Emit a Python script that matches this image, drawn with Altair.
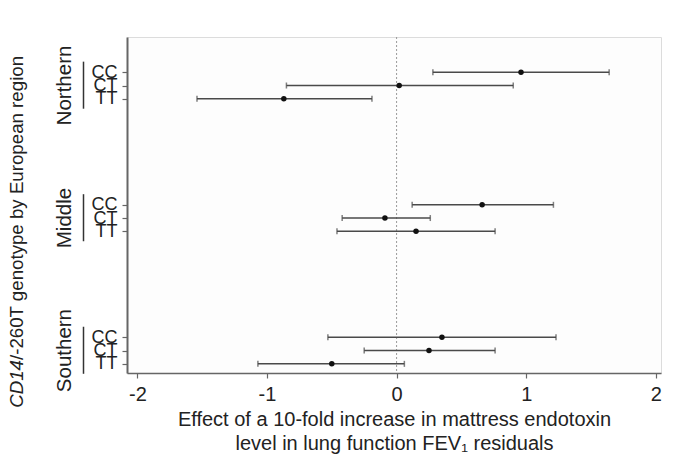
import altair as alt
import pandas as pd

# ---- data ----
regions = ["Northern", "Northern", "Northern", "Middle", "Middle", "Middle",
           "Southern", "Southern", "Southern"]
genotypes = ["CC", "CT", "TT", "CC", "CT", "TT", "CC", "CT", "TT"]
estimate = [0.96, 0.02, -0.87, 0.66, -0.09, 0.15, 0.35, 0.25, -0.50]
ci_low = [0.28, -0.85, -1.54, 0.12, -0.42, -0.46, -0.53, -0.25, -1.07]
ci_high = [1.64, 0.90, -0.19, 1.21, 0.26, 0.76, 1.23, 0.76, 0.06]
row_pos = [0, 1, 2, 10, 11, 12, 20, 21, 22]

group_names = ["Northern", "Middle", "Southern"]
group_center = [1, 11, 21]
group_start = [-0.8, 9.2, 19.2]
group_end = [2.75, 12.75, 22.75]

x_ticks = [-2, -1, 0, 1, 2]
x_title = ["Effect of a 10-fold increase in mattress endotoxin",
           "level in lung function FEV\u2081 residuals"]
y_title_italic = "CD14"
y_title_rest = "/-260T genotype by European region"

FONT = "Liberation Sans"

df = pd.DataFrame({"region": regions, "genotype": genotypes, "est": estimate,
                   "lo": ci_low, "hi": ci_high, "pos": row_pos})
gdf = pd.DataFrame({"name": group_names, "center": group_center,
                    "start": group_start, "end": group_end})

xscale = alt.Scale(domain=[-2.08, 2.04], nice=False, zero=False)
yscale = alt.Scale(domain=[-2.66, 22.69], nice=False, zero=False, reverse=True)

xaxis = alt.Axis(values=x_ticks, title=x_title, grid=False, format="d",
                 labelExpr="replace(datum.label, '\u2212', '-')",
                 labelFont=FONT, labelFontSize=20, labelColor="#222",
                 labelPadding=6, labelFlush=False, labelOverlap=False,
                 tickSize=5, tickColor="#666", tickWidth=1.2,
                 domainColor="#666", domainWidth=1.5,
                 titleFont=FONT, titleFontSize=20, titleFontWeight="normal",
                 titleColor="#222", titlePadding=5, titleLineHeight=24)

yaxis = alt.Axis(values=row_pos, title=None, grid=False,
                 labelExpr="['CC','CT','TT'][datum.value % 10]",
                 labelFont=FONT, labelFontSize=18, labelColor="#222",
                 labelPadding=5, labelOverlap=False, labelFlush=False,
                 labelBaseline="middle",
                 tickSize=5, tickColor="#666", tickWidth=1.2,
                 domainColor="#666", domainWidth=2)

base = alt.Chart(df)

zero_line = alt.Chart(pd.DataFrame({"x": [0]})).mark_rule(
    color="#999", strokeDash=[2, 2], strokeWidth=1
).encode(x=alt.X("x:Q", scale=xscale))

bars = base.mark_rule(color="#4a4a4a", strokeWidth=1.5).encode(
    x=alt.X("lo:Q", scale=xscale, axis=xaxis),
    x2="hi:Q",
    y=alt.Y("pos:Q", scale=yscale, axis=yaxis),
)

caps = base.transform_fold(["lo", "hi"], as_=["end", "val"]).mark_tick(
    orient="vertical", color="#4a4a4a", thickness=1.5, size=6
).encode(x=alt.X("val:Q", scale=xscale), y=alt.Y("pos:Q", scale=yscale))

points = base.mark_circle(size=30, color="#111", opacity=1).encode(
    x=alt.X("est:Q", scale=xscale), y=alt.Y("pos:Q", scale=yscale)
)

group_labels = alt.Chart(gdf).mark_text(
    angle=270, align="center", baseline="alphabetic", font=FONT,
    fontSize=20.5, color="#222"
).encode(x=alt.value(-56), y=alt.Y("center:Q", scale=yscale), text="name:N")

brackets = alt.Chart(gdf).mark_rule(color="#333", strokeWidth=1.5).encode(
    x=alt.value(-43.5), y=alt.Y("start:Q", scale=yscale), y2="end:Q"
)

title_a = alt.Chart(pd.DataFrame({"t": [y_title_italic]})).mark_text(
    angle=270, align="right", baseline="alphabetic", font=FONT,
    fontSize=18.7, fontStyle="italic", color="#222"
).encode(x=alt.value(-104), y=alt.value(323), text="t:N")

title_b = alt.Chart(pd.DataFrame({"t": [y_title_rest]})).mark_text(
    angle=270, align="left", baseline="alphabetic", font=FONT,
    fontSize=18.7, color="#222"
).encode(x=alt.value(-104), y=alt.value(323), text="t:N")

chart = alt.layer(
    zero_line, bars, caps, points, group_labels, brackets, title_a, title_b
).properties(
    width=534, height=336,
    autosize=alt.AutoSizeParams(type="none"),
    padding={"left": 119, "top": 29, "right": 8, "bottom": 85},
).configure_view(stroke="#dcdcdc", fill="#fdfdfd")

chart.save("out.html", embed_options={"renderer": "svg", "actions": False})
